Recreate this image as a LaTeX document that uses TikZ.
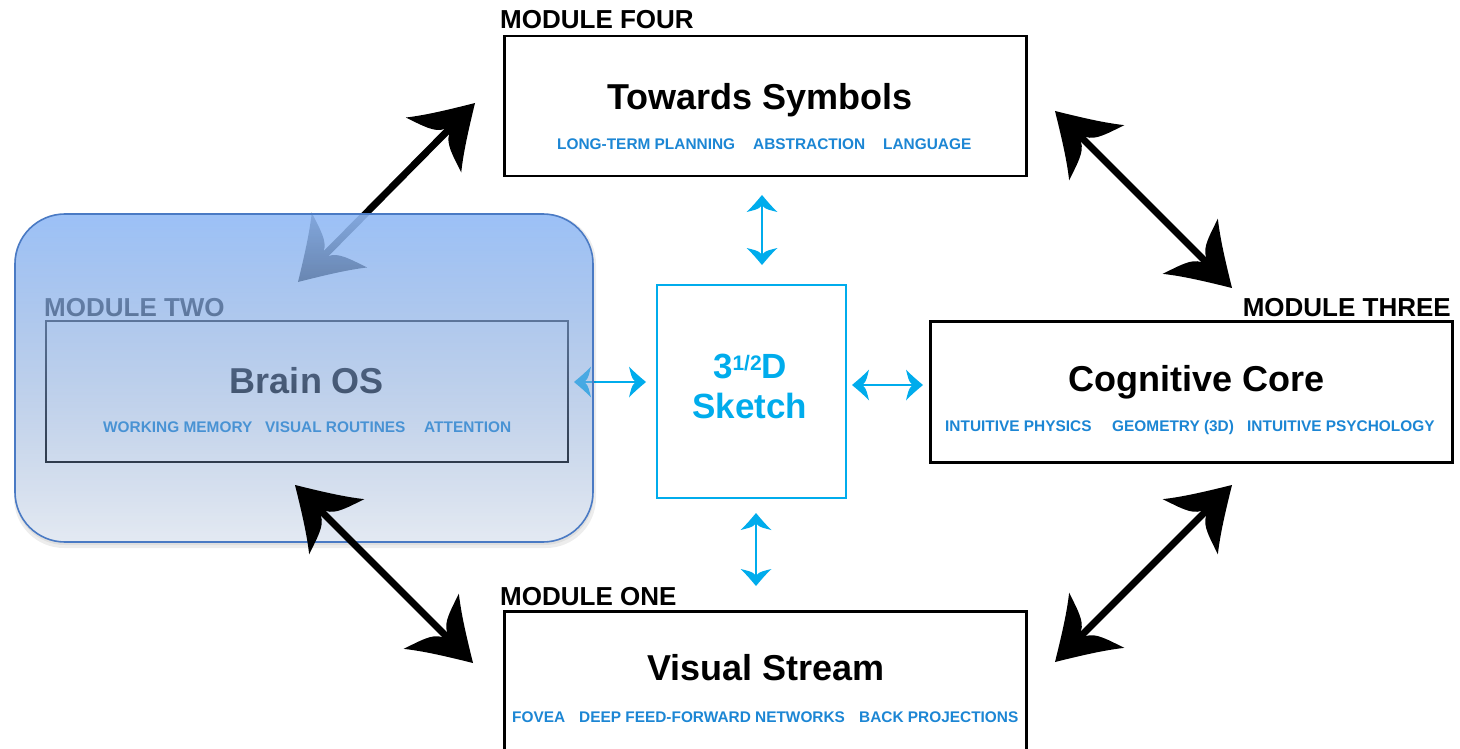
\documentclass[tikz,border=0pt]{standalone}
\usepackage{fontspec}
\setmainfont{Liberation Sans}
\usetikzlibrary{arrows.meta,fadings}

\definecolor{subblue}{RGB}{28,134,212}
\definecolor{skblue}{RGB}{0,172,236}
\definecolor{ovtop}{RGB}{145,186,246}
\definecolor{ovbot}{RGB}{120,150,195}
\definecolor{ovborder}{RGB}{74,122,196}

\tikzfading[name=fadeMtwo, top color=transparent!10, middle color=transparent!35, bottom color=transparent!80]

\pgfdeclarearrow{
  name = Horn,
  parameters = {\the\pgfarrowlength,\the\pgfarrowwidth},
  setup code = {
    \pgfarrowssettipend{0pt}
    \pgfarrowssetlineend{-.6\pgfarrowlength}
    \pgfarrowssetbackend{-\pgfarrowlength}
    \pgfarrowshullpoint{0pt}{0pt}
    \pgfarrowshullpoint{-\pgfarrowlength}{.5\pgfarrowwidth}
    \pgfarrowshullpoint{-\pgfarrowlength}{-.5\pgfarrowwidth}
    \pgfarrowssavethe\pgfarrowlength
    \pgfarrowssavethe\pgfarrowwidth
  },
  drawing code = {
    \pgfpathmoveto{\pgfqpoint{0pt}{0pt}}
    \pgfpathcurveto
      {\pgfqpoint{-.35\pgfarrowlength}{.16\pgfarrowwidth}}
      {\pgfqpoint{-.72\pgfarrowlength}{.33\pgfarrowwidth}}
      {\pgfqpoint{-\pgfarrowlength}{.5\pgfarrowwidth}}
    \pgfpathcurveto
      {\pgfqpoint{-.9\pgfarrowlength}{.28\pgfarrowwidth}}
      {\pgfqpoint{-.84\pgfarrowlength}{.1\pgfarrowwidth}}
      {\pgfqpoint{-.68\pgfarrowlength}{.045\pgfarrowwidth}}
    \pgfpathlineto{\pgfqpoint{-.68\pgfarrowlength}{-.045\pgfarrowwidth}}
    \pgfpathcurveto
      {\pgfqpoint{-.84\pgfarrowlength}{-.1\pgfarrowwidth}}
      {\pgfqpoint{-.9\pgfarrowlength}{-.28\pgfarrowwidth}}
      {\pgfqpoint{-\pgfarrowlength}{-.5\pgfarrowwidth}}
    \pgfpathcurveto
      {\pgfqpoint{-.72\pgfarrowlength}{-.33\pgfarrowwidth}}
      {\pgfqpoint{-.35\pgfarrowlength}{-.16\pgfarrowwidth}}
      {\pgfqpoint{0pt}{0pt}}
    \pgfpathclose
    \pgfusepathqfill
  },
  defaults = {length = 59pt, width = 78pt}
}

\tikzset{
  modbox/.style={draw=black, line width=2.5pt, inner sep=0pt, anchor=north west},
  modlabel/.style={font=\fontsize{26}{26}\selectfont\bfseries, anchor=base west, inner sep=0pt},
  titletext/.style={font=\fontsize{36}{36}\selectfont\bfseries, anchor=base, inner sep=0pt},
  subtext/.style={font=\fontsize{15.4}{15.4}\selectfont\bfseries, text=subblue, anchor=base west, inner sep=0pt},
  sketchtext/.style={font=\fontsize{35}{35}\selectfont\bfseries, text=skblue, anchor=base, inner sep=0pt},
  bigarrow/.style={draw=black, line width=7pt, arrows={Horn[length=59pt,width=78pt]-Horn[length=59pt,width=78pt]}},
  bluearrow/.style={draw=skblue, line width=2.5pt, arrows={Horn[length=17pt,width=31pt]-Horn[length=17pt,width=31pt]}},
}

\begin{document}
\begin{tikzpicture}[x=1pt, y=-1pt]
\useasboundingbox (0,0) rectangle (1460,749);
\fill[white] (0,0) rectangle (1460,749);

% Module four
\node[modbox, minimum width=522pt, minimum height=140pt] (m4) at (503,35) {};
\node[modlabel] (l4) at (500,29) {MODULE FOUR};
\node[titletext] (t4) at (760,110) {Towards Symbols};
\node[subtext] (s41) at (557,150) {LONG-TERM PLANNING};
\node[subtext] (s42) at (753,150) {ABSTRACTION};
\node[subtext] (s43) at (883,150) {LANGUAGE};

% Module three
\node[modbox, minimum width=522pt, minimum height=141pt] (m3) at (929,320) {};
\node[modlabel, anchor=base east] (l3) at (1451,316) {MODULE THREE};
\node[titletext] (t3) at (1197,391) {Cognitive Core};
\node[subtext] (s31) at (945,431) {INTUITIVE PHYSICS};
\node[subtext] (s32) at (1112,431) {GEOMETRY (3D)};
\node[subtext] (s33) at (1247,431) {INTUITIVE PSYCHOLOGY};

% Module one
\node[modbox, minimum width=522pt, minimum height=160pt] (m1) at (503,610) {};
\node[modlabel] (l1) at (500,605) {MODULE ONE};
\node[titletext] (t1) at (766,680) {Visual Stream};
\node[subtext] (s11) at (512,722) {FOVEA};
\node[subtext] (s12) at (579,722) {DEEP FEED-FORWARD NETWORKS};
\node[subtext] (s13) at (859,722) {BACK PROJECTIONS};

% Sketch
\node[draw=skblue, line width=2.2pt, inner sep=0pt, anchor=north west, minimum width=189pt, minimum height=213pt] (sk) at (656,284) {};
\node[sketchtext] (sk1) at (750,378) {3\raisebox{8pt}{\fontsize{21}{21}\selectfont 1/2}D};
\node[sketchtext] (sk2) at (750,418) {Sketch};

% Module two contents (under the overlay)
\node[modbox, line width=2.2pt, minimum width=522pt, minimum height=141pt] (m2) at (45,320) {};
\node[modlabel] (l2) at (44,316) {MODULE TWO};
\node[titletext] (t2) at (307,393) {Brain OS};
\node[subtext] (s21) at (103,432) {WORKING MEMORY};
\node[subtext] (s22) at (265,432) {VISUAL ROUTINES};
\node[subtext] (s23) at (424,432) {ATTENTION};

% connector end points
\coordinate (a1s) at (298,282);  \coordinate (a1e) at (475,103);
\coordinate (a2s) at (1055,111); \coordinate (a2e) at (1232,288);
\coordinate (a3s) at (1055,662); \coordinate (a3e) at (1232,485);
\coordinate (a4s) at (295,485);  \coordinate (a4e) at (473,663);
\coordinate (b1s) at (762,195);  \coordinate (b1e) at (762,265);
\coordinate (b2s) at (756,513);  \coordinate (b2e) at (756,586);
\coordinate (b3s) at (574,382);  \coordinate (b3e) at (646,382);
\coordinate (b4s) at (852,385);  \coordinate (b4e) at (923,385);

% connectors under the overlay
\draw[bigarrow] (a1s) -- (a1e);
\draw[bluearrow] (b3s) -- (b3e);

% translucent Module Two panel
\fill[black, opacity=0.07, even odd rule, rounded corners=50pt]
  (14,214) rectangle (596,548) (15,214) rectangle (593,542);
\fill[black, opacity=0.06, even odd rule, rounded corners=50pt]
  (15,214) rectangle (594,545) (15,214) rectangle (593,542);
\shade[top color=ovtop, bottom color=ovbot, path fading=fadeMtwo, rounded corners=50pt]
  (15,214) rectangle (593,542);
\draw[ovborder, line width=1.6pt, rounded corners=50pt] (15,214) rectangle (593,542);

% remaining connectors
\draw[bigarrow] (a2s) -- (a2e);
\draw[bigarrow] (a3s) -- (a3e);
\draw[bigarrow] (a4s) -- (a4e);
\draw[bluearrow] (b1s) -- (b1e);
\draw[bluearrow] (b2s) -- (b2e);
\draw[bluearrow] (b4s) -- (b4e);
\end{tikzpicture}
\end{document}
